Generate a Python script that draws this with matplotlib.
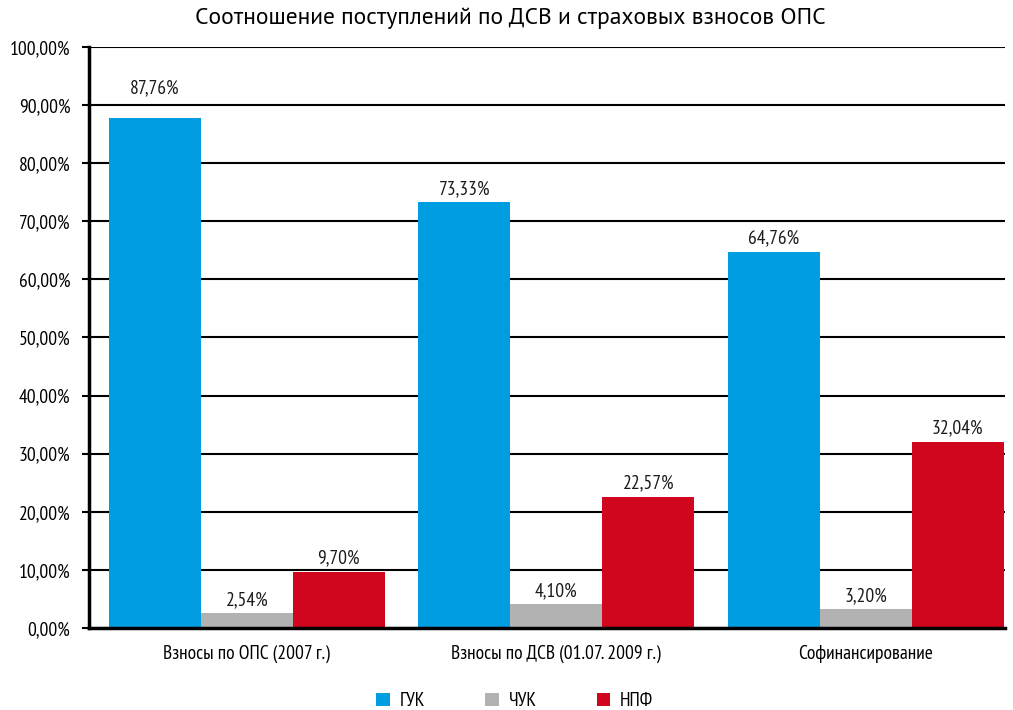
import numpy as np
import matplotlib
matplotlib.use("Agg")
import matplotlib.pyplot as plt

# Data
categories = ["Взносы по ОПС (2007 г.)", "Взносы по ДСВ (01.07. 2009 г.)", "Софинансирование"]
series = ["ГУК", "ЧУК", "НПФ"]
guk = [87.76, 73.33, 64.76]
chuk = [2.54, 4.10, 3.20]
npf = [9.70, 22.57, 32.04]
colors = ["#009EE0", "#B2B2B2", "#D0061F"]
yticks = list(range(0, 101, 10))

plt.rcParams["font.family"] = ["PT Sans Narrow", "DejaVu Sans"]

fig = plt.figure(figsize=(10.13, 7.1), dpi=100)
ax = fig.add_axes([0.0879, 0.1155, 0.9041, 0.8183])

x = np.arange(len(categories))
w = 0.297
values = [guk, chuk, npf]
for i, (vals, col, name) in enumerate(zip(values, colors, series)):
    pos = x + (i - 1) * w
    bars = ax.bar(pos, vals, width=w, color=col, label=name, zorder=3)
    for j, (b, v) in enumerate(zip(bars, vals)):
        off = 15 if (i == 0 and j == 0) else 3
        ax.annotate(f"{v:.2f}%".replace(".", ","),
                    (b.get_x() + b.get_width() / 2, v),
                    xytext=(0, off), textcoords="offset points",
                    ha="center", va="bottom", fontsize=14, color="#1a1a1a")

ax.set_xlim(-0.51, 2.45)
ax.set_ylim(0, 100)
ax.set_yticks(yticks)
ax.set_yticklabels([f"{t:.2f}%".replace(".", ",") for t in yticks], fontsize=14)
ax.set_xticks(x)
ax.set_xticklabels(categories, fontsize=14)
ax.tick_params(axis="x", length=0, pad=12)
ax.tick_params(axis="y", length=5, width=1.5, direction="out", pad=8.5)
ax.yaxis.grid(True, color="black", linewidth=1.5, zorder=0)
ax.set_axisbelow(True)
for s in ["top", "right"]:
    ax.spines[s].set_visible(False)
ax.spines["left"].set_linewidth(2.5)
ax.spines["bottom"].set_linewidth(2.5)
ax.spines["bottom"].set_zorder(4)

fig.suptitle("Соотношение поступлений по ДСВ и страховых взносов ОПС",
             x=0.504, y=0.99, fontsize=16.9, family=["PT Sans", "DejaVu Sans"])

fig.legend(loc="center", bbox_to_anchor=(0.508, 0.012), ncol=3, frameon=False,
           fontsize=14, handlelength=0.7, handleheight=0.7, columnspacing=3.1,
           handletextpad=0.5)

fig.savefig("out.png", dpi=100)
